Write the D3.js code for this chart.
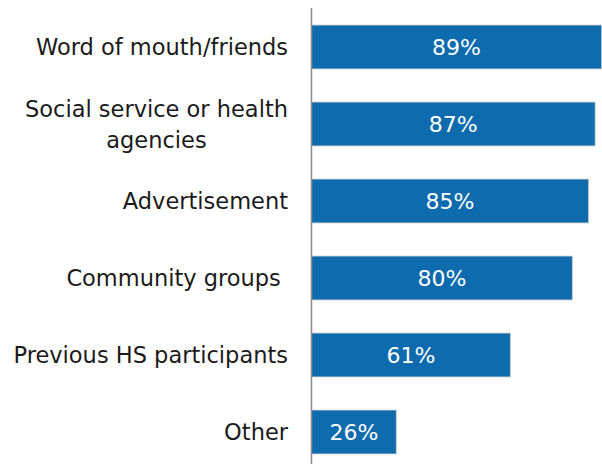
<!DOCTYPE html>
<html>
<head>
<meta charset="utf-8">
<script src="https://cdn.jsdelivr.net/npm/d3@7/dist/d3.min.js"></script>
<style>
  html, body { margin: 0; padding: 0; background: #fff; }
  svg { display: block; }
  .cat { font-family: "DejaVu Sans", sans-serif; font-size: 22.5px; fill: #1a1a1a; white-space: pre; }
  .val { font-family: "DejaVu Sans", sans-serif; font-size: 22px; fill: #fff; }
</style>
</head>
<body>
<svg id="chart" width="602" height="464"></svg>
<script>
// Referral sources and share of respondents (%)
const categories = [
  ["Word of mouth/friends"],
  ["Social service or health", "agencies"],
  ["Advertisement"],
  ["Community groups "],
  ["Previous HS participants"],
  ["Other"]
];
const values = [89, 87, 85, 80, 61, 26];

const width = 602, height = 464;
const axisX = 311.5;

const svg = d3.select("#chart");

const keys = categories.map((c, i) => i);

const x = d3.scaleLinear().domain([0, 100]).range([axisX, axisX + 326]);
const y = d3.scaleBand().domain(keys).range([8.5, 470.5])
  .paddingInner(0.43).paddingOuter(0.215);

// bars
svg.append("g").selectAll("rect")
  .data(keys)
  .join("rect")
  .attr("x", x(0))
  .attr("y", i => y(i))
  .attr("width", i => x(values[i]) - x(0))
  .attr("height", y.bandwidth())
  .attr("fill", "#0e6bae")
  .attr("stroke", "#c8c8c8")
  .attr("stroke-width", 0.8);

// value labels centred in each bar
svg.append("g").selectAll("text")
  .data(keys)
  .join("text")
  .attr("class", "val")
  .attr("x", i => (x(0) + x(values[i])) / 2)
  .attr("y", i => y(i) + y.bandwidth() / 2)
  .attr("dy", "0.36em")
  .attr("text-anchor", "middle")
  .text(i => values[i] + "%");

// category axis line
svg.append("line")
  .attr("x1", axisX).attr("x2", axisX)
  .attr("y1", 8).attr("y2", height)
  .attr("stroke", "#8c8c8c")
  .attr("stroke-width", 1.5);

// category labels: wrapped lines centred on one another, block right-aligned
const lineH = 31;
const labelRight = 288;
keys.forEach(i => {
  const lines = categories[i];
  const cy = y(i) + y.bandwidth() / 2;
  const g = svg.append("g");
  const texts = lines.map((ln, k) => g.append("text")
    .attr("class", "cat")
    .attr("y", cy + (k - (lines.length - 1) / 2) * lineH)
    .attr("dy", "0.36em")
    .attr("text-anchor", "middle")
    .text(ln));
  const widths = texts.map(t => t.node().getComputedTextLength());
  const maxW = d3.max(widths);
  texts.forEach(t => t.attr("x", labelRight - maxW / 2));
});
</script>
</body>
</html>
